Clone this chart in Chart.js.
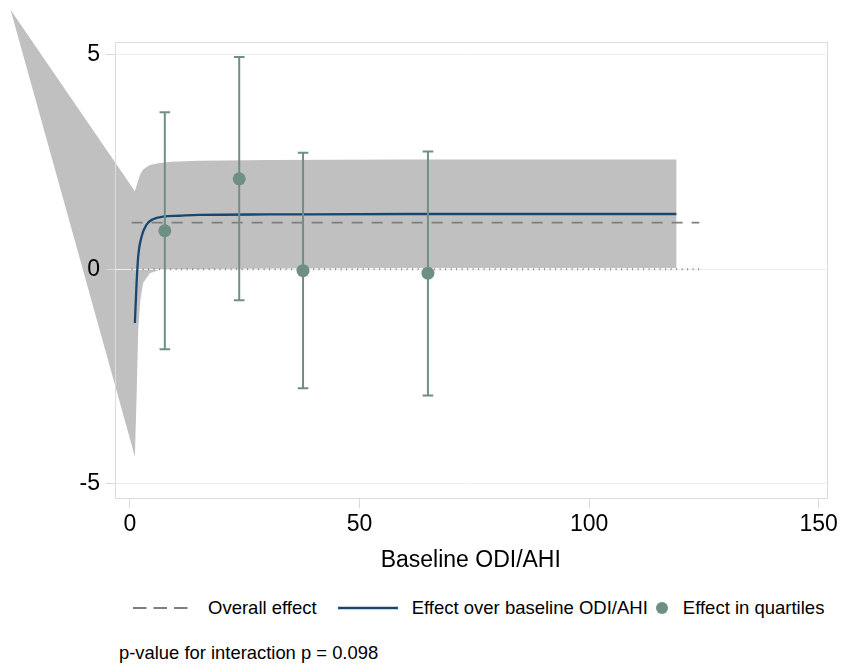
<!DOCTYPE html>
<html>
<head>
<meta charset="utf-8">
<script src="https://cdn.jsdelivr.net/npm/chart.js@4.4.1/dist/chart.umd.min.js"></script>
<style>
  body { margin: 0; background: #fff; font-family: 'Liberation Sans', Arial, sans-serif; }
  #wrap { position: relative; width: 841px; height: 664px; }
  #box { position: absolute; left: 0; top: 0; width: 841px; height: 590px; }
  #legend { position: absolute; left: 133px; top: 597px; height: 22px; display: flex; align-items: center; font-size: 18.5px; line-height: 22px; color: #000; white-space: nowrap; }
  #legend svg { display: block; }
  #note { position: absolute; left: 119px; top: 642px; font-size: 18.4px; line-height: 22px; color: #000; white-space: nowrap; }
</style>
</head>
<body>
<div id="wrap">
  <div id="box"><canvas id="grafica"></canvas></div>
  <div id="legend"></div>
  <div id="note">p-value for interaction p = 0.098</div>
</div>
<script>
// confidence band around the effect curve (first point lies off the plot, as in the original)
const bandX     = [-26, 1.08, 1.45, 1.8, 2.27, 2.88, 4.33, 6.5, 9, 15, 30, 60, 119];
const bandUpper = [6.05, 1.82, 1.95, 2.08, 2.22, 2.33, 2.43, 2.48, 2.51, 2.53, 2.55, 2.56, 2.56];
const bandLower = [6.05, -4.36, -2.97, -1.41, -0.71, -0.32, -0.09, -0.01, 0.0, 0.01, 0.02, 0.03, 0.03];

// effect over baseline ODI/AHI
const effectX = [1.08, 1.45, 1.8, 2.53, 3.61, 5.04, 7.2, 10.8, 15, 30, 60, 119];
const effectY = [-1.25, -0.32, 0.30, 0.76, 1.04, 1.17, 1.23, 1.25, 1.27, 1.28, 1.29, 1.29];

// overall effect and zero reference
const overallX = [0.37, 124];
const overallY = 1.09;
const zeroX = [0.37, 124];

// effect in quartiles
const qX    = [7.6, 23.8, 37.7, 64.9];
const qY    = [0.90, 2.11, -0.03, -0.09];
const qLow  = [-1.86, -0.72, -2.77, -2.94];
const qHigh = [3.66, 4.95, 2.72, 2.75];

const xTicks = [0, 50, 100, 150];
const yTicks = [-5, 0, 5];

const gris = '#c0c0c0';
const azul = '#1a476f';
const verde = '#6f8f84';

Chart.defaults.font.family = "'Liberation Sans', Arial, sans-serif";
Chart.defaults.color = '#000';

// rarea-style band, drawn first and without clipping so the wedge can leave the plot region
const bandaPlugin = {
  id: 'banda',
  beforeDraw(chart) {
    const {ctx, scales: {x, y}} = chart;
    ctx.save();
    ctx.beginPath();
    for (let i = 0; i < bandX.length; i++) {
      const px = x.getPixelForValue(bandX[i]);
      const py = y.getPixelForValue(bandUpper[i]);
      if (i === 0) ctx.moveTo(px, py); else ctx.lineTo(px, py);
    }
    for (let i = bandX.length - 1; i >= 0; i--) {
      ctx.lineTo(x.getPixelForValue(bandX[i]), y.getPixelForValue(bandLower[i]));
    }
    ctx.closePath();
    ctx.fillStyle = gris;
    ctx.fill();
    ctx.restore();
  }
};

// light frame around the plot region
const marcoPlugin = {
  id: 'marco',
  afterDatasetsDraw(chart) {
    const {ctx, chartArea: a} = chart;
    ctx.save();
    ctx.strokeStyle = '#dcdcdc';
    ctx.lineWidth = 1;
    ctx.strokeRect(Math.round(a.left) + 0.5, Math.round(a.top) + 0.5, Math.round(a.right - a.left), Math.round(a.bottom - a.top));
    ctx.restore();
  }
};

let barras = [];
for (let i = 0; i < qX.length; i++) {
  barras.push({x: qX[i], y: qLow[i]});
  barras.push({x: qX[i], y: qHigh[i]});
  barras.push({x: qX[i], y: null});
}

const grafica = new Chart(document.getElementById('grafica'), {
  type: 'line',
  data: {
    datasets: [
      {
        label: 'Overall effect',
        data: overallX.map(v => ({x: v, y: overallY})),
        borderColor: '#7f7f7f',
        borderWidth: 1.8,
        borderDash: [11, 9],
        pointRadius: 0,
        order: 3
      },
      {
        label: 'Effect over baseline ODI/AHI',
        data: effectX.map((v, i) => ({x: v, y: effectY[i]})),
        borderColor: azul,
        borderWidth: 2.3,
        pointRadius: 0,
        cubicInterpolationMode: 'monotone',
        order: 2
      },
      {
        label: 'Effect in quartiles',
        data: qX.map((v, i) => ({x: v, y: qY[i]})),
        showLine: false,
        pointRadius: 6.5,
        pointBackgroundColor: verde,
        pointBorderWidth: 0,
        order: 0
      },
      {
        data: barras,
        borderColor: verde,
        borderWidth: 2,
        spanGaps: false,
        pointStyle: 'line',
        pointRadius: 5.3,
        pointBorderColor: verde,
        pointBorderWidth: 2,
        order: 1
      },
      {
        data: zeroX.map(v => ({x: v, y: 0})),
        borderColor: '#808080',
        borderWidth: 2,
        borderDash: [1, 4.5],
        pointRadius: 0,
        order: 4
      }
    ]
  },
  options: {
    responsive: true,
    maintainAspectRatio: false,
    animation: false,
    events: [],
    layout: { padding: { top: 42, right: 10, left: 0, bottom: 0 } },
    plugins: {
      legend: { display: false },
      tooltip: { enabled: false }
    },
    scales: {
      x: {
        type: 'linear',
        min: -3.25,
        max: 151.7,
        afterBuildTicks: s => { s.ticks = xTicks.map(v => ({value: v})); },
        afterFit: s => { s.height = 92; },
        grid: { drawOnChartArea: false, tickLength: 10, tickColor: '#d9d9d9' },
        border: { display: false },
        ticks: { padding: 3, maxRotation: 0, font: { size: 23 }, color: '#000' },
        title: { display: true, text: 'Baseline ODI/AHI', font: { size: 23 }, color: '#000', padding: { top: 0, bottom: 16 } }
      },
      y: {
        type: 'linear',
        min: -5.33,
        max: 5.30,
        afterBuildTicks: s => { s.ticks = yTicks.map(v => ({value: v})); },
        afterFit: s => { s.width = 115; },
        grid: { color: '#eeeeee', tickLength: 9, tickColor: '#d9d9d9' },
        border: { display: false },
        ticks: { padding: 6, font: { size: 23 }, color: '#000' }
      }
    }
  },
  plugins: [bandaPlugin, marcoPlugin]
});

// legend in the Stata style, built from the labelled datasets
const leyenda = document.getElementById('legend');
const margenes = [0, 21, 7];
grafica.data.datasets.filter(d => d.label).forEach((d, i) => {
  let clave;
  if (d.showLine === false) {
    clave = `<svg width="14" height="14"><circle cx="7" cy="7" r="6" fill="${d.pointBackgroundColor}"/></svg>`;
  } else {
    const dash = d.borderDash ? 'stroke-dasharray="13.5 7"' : '';
    clave = `<svg width="60" height="10"><line x1="0" y1="5" x2="60" y2="5" stroke="${d.borderColor}" stroke-width="${d.borderWidth}" ${dash}/></svg>`;
  }
  const item = document.createElement('span');
  item.style.display = 'flex';
  item.style.alignItems = 'center';
  item.style.marginLeft = margenes[i] + 'px';
  item.innerHTML = clave + `<span style="margin-left:${i === 0 ? 15 : 14}px">${d.label}</span>`;
  leyenda.appendChild(item);
});
</script>
</body>
</html>
